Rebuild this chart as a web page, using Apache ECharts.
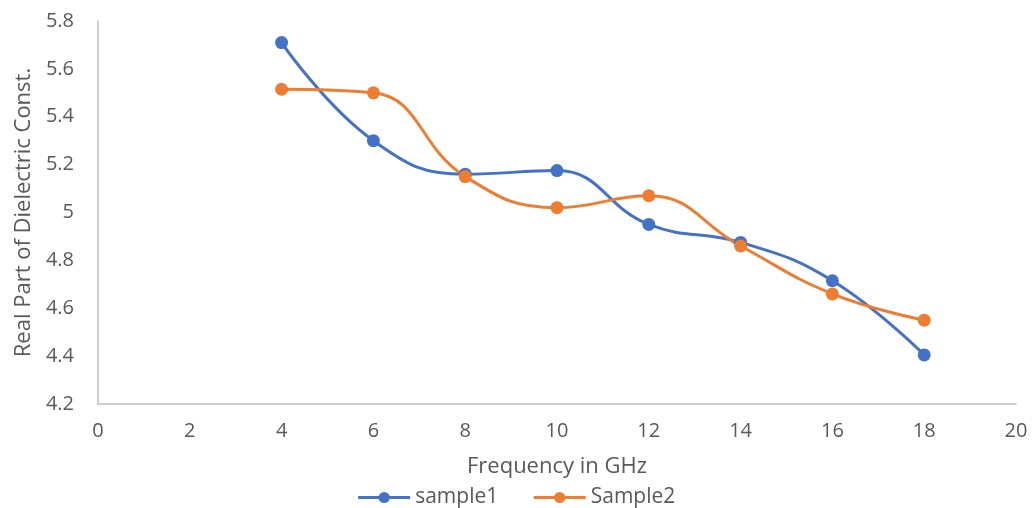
<!DOCTYPE html>
<html><head><meta charset="utf-8">
<script src="https://cdn.jsdelivr.net/npm/echarts@6/dist/echarts.min.js"></script>
<style>html,body{margin:0;padding:0;background:#fff}#c{width:1032px;height:508px}</style>
</head><body><div id="c"></div>
<script>
const freq = [4, 6, 8, 10, 12, 14, 16, 18];
const sample1 = [5.71, 5.30, 5.16, 5.175, 4.95, 4.875, 4.715, 4.405];
const sample2 = [5.515, 5.50, 5.15, 5.02, 5.07, 4.86, 4.66, 4.55];
const xTicks = {min: 0, max: 20, interval: 2};
const yTicks = {min: 4.2, max: 5.8, interval: 0.2};
const font = '"Open Sans", "Noto Sans", sans-serif';
const chart = echarts.init(document.getElementById('c'));
const mk = (name, vals, color) => ({
  name, type: 'line', smooth: 0.45,
  data: freq.map((f, i) => [f, vals[i]]),
  symbol: 'circle', symbolSize: 13,
  lineStyle: {color, width: 3},
  itemStyle: {color},
  emphasis: {disabled: true}
});
chart.setOption({
  animation: false,
  textStyle: {fontFamily: font},
  grid: {left: 98, right: 16, top: 21, bottom: 104},
  legend: {
    top: 482, left: 'center', itemWidth: 52, itemHeight: 14, itemGap: 34,
    lineStyle: {width: 3},
    textStyle: {fontSize: 21, color: '#595959', fontFamily: font},
    data: ['sample1', 'Sample2']
  },
  xAxis: {
    type: 'value', min: xTicks.min, max: xTicks.max, interval: xTicks.interval,
    name: 'Frequency in GHz', nameLocation: 'middle', nameGap: 52,
    nameTextStyle: {fontSize: 22, color: '#595959'},
    axisLine: {show: true, lineStyle: {color: '#bfbfbf', width: 1.5}},
    axisTick: {show: false}, splitLine: {show: false},
    axisLabel: {fontSize: 20, color: '#595959', margin: 17}
  },
  yAxis: {
    type: 'value', min: yTicks.min, max: yTicks.max, interval: yTicks.interval,
    name: 'Real Part of Dielectric Const.', nameLocation: 'middle', nameGap: 60,
    nameTextStyle: {fontSize: 22, color: '#595959'},
    axisLine: {show: true, lineStyle: {color: '#bfbfbf', width: 1.5}},
    axisTick: {show: false}, splitLine: {show: false},
    axisLabel: {fontSize: 20, color: '#595959', margin: 24, formatter: v => String(+v.toFixed(1))}
  },
  series: [mk('sample1', sample1, '#4472c4'), mk('Sample2', sample2, '#ed7d31')]
});
</script></body></html>
